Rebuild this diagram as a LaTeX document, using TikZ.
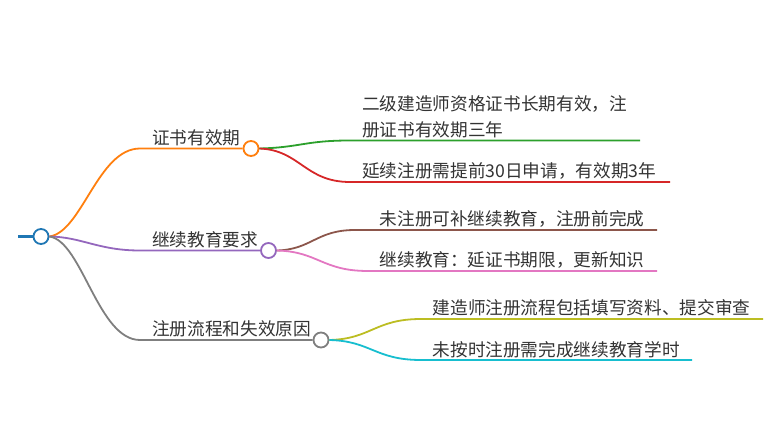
\documentclass[tikz,border=0pt]{standalone}
\usepackage{fontspec}
\setmainfont{Noto Sans CJK SC}

\definecolor{cblue}{HTML}{1F77B4}
\definecolor{corange}{HTML}{FF7F0E}
\definecolor{cgreen}{HTML}{2CA02C}
\definecolor{cred}{HTML}{D62728}
\definecolor{cpurple}{HTML}{9467BD}
\definecolor{cbrown}{HTML}{8C564B}
\definecolor{cpink}{HTML}{E377C2}
\definecolor{cgray}{HTML}{7F7F7F}
\definecolor{colive}{HTML}{BCBD22}
\definecolor{ccyan}{HTML}{17BECF}

\tikzset{
    knot/.style={circle, draw=#1, fill=white, line width=1.8pt, minimum size=15pt, inner sep=0pt},
    leaf/.style={anchor=west, inner sep=0pt, text=black!80, align=left,
        font=\fontsize{17.65}{26}\selectfont},
    twig/.style={draw=#1, line width=1.8pt},
}

\begin{document}
\begin{tikzpicture}[x=1pt, y=-1pt]
    \useasboundingbox (0,0) rectangle (780,441);

    \coordinate (start) at (18,236.5);
    \coordinate (a) at (140,148.5);
    \coordinate (b) at (140,250.5);
    \coordinate (c) at (140,340);

    \coordinate (a1) at (350,140.5);
    \coordinate (a1e) at (640,140.5);
    \coordinate (a2) at (350,182);
    \coordinate (a2e) at (670,182);
    \coordinate (b1) at (355,230);
    \coordinate (b1e) at (657,230);
    \coordinate (b2) at (368,271);
    \coordinate (b2e) at (657,271);
    \coordinate (c1) at (421,319);
    \coordinate (c1e) at (763,319);
    \coordinate (c2) at (421,360);
    \coordinate (c2e) at (692,360);

    \node [knot=cblue] (root) at (41,236.5) {};
    \node [knot=corange] (ka) at (251,148.5) {};
    \node [knot=cpurple] (kb) at (268.5,250.5) {};
    \node [knot=cgray] (kc) at (321,340) {};

    \path [twig=cblue, line width=2.4pt] (start) -- (root);
    \path [twig=corange] (root.east) .. controls (82,232) and (98,148.5) .. (a) -- (ka);
    \path [twig=cpurple] (root.east) .. controls (82,237) and (98,250.5) .. (b) -- (kb);
    \path [twig=cgray] (root.east) .. controls (82,241) and (98,340) .. (c) -- (kc);

    \path [twig=cgreen] (ka.east) .. controls (300,147.5) and (305,140.5) .. (a1) -- (a1e);
    \path [twig=cred] (ka.east) .. controls (300,150) and (305,182) .. (a2) -- (a2e);
    \path [twig=cbrown] (kb.east) .. controls (312,249.5) and (316,230) .. (b1) -- (b1e);
    \path [twig=cpink] (kb.east) .. controls (318,251.5) and (322,271) .. (b2) -- (b2e);
    \path [twig=colive] (kc.east) .. controls (371,339) and (375,319) .. (c1) -- (c1e);
    \path [twig=ccyan] (kc.east) .. controls (371,341) and (375,360) .. (c2) -- (c2e);

    \node [leaf] (la) at (152,138) {证书有效期};
    \node [leaf] (lb) at (152,240) {继续教育要求};
    \node [leaf] (lc) at (152,329) {注册流程和失效原因};

    \node [leaf] (la1) at (362,117) {二级建造师资格证书长期有效，注\\册证书有效期三年};
    \node [leaf] (la2) at (362,171) {延续注册需提前30日申请，有效期3年};
    \node [leaf] (lb1) at (379.5,219) {未注册可补继续教育，注册前完成};
    \node [leaf] (lb2) at (379.5,260) {继续教育：延证书期限，更新知识};
    \node [leaf] (lc1) at (432.5,308) {建造师注册流程包括填写资料、提交审查};
    \node [leaf] (lc2) at (432.5,350) {未按时注册需完成继续教育学时};
\end{tikzpicture}
\end{document}
